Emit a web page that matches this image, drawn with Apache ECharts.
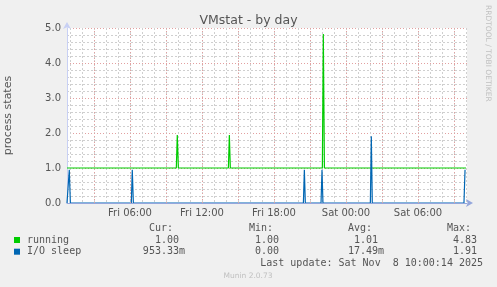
<!DOCTYPE html>
<html><head><meta charset="utf-8">
<script src="https://cdn.jsdelivr.net/npm/echarts@6/dist/echarts.min.js"></script>
<style>html,body{margin:0;padding:0;background:#f0f0f0;}#c{width:497px;height:287px;}</style>
</head><body><div id="c"></div>
<script>
// time in hours since Fri 00:00
const xMin = 0.75, xMax = 34.0833;
const minorTicks = [1,2,3,4,5,6,7,8,9,10,11,12,13,14,15,16,17,18,19,20,21,22,23,24,25,26,27,28,29,30,31,32,33,34];
const majorTicks = [3,6,9,12,15,18,21,24,27,30,33];
const labelTicks = [6,12,18,24,30];
const yTicks = [0,1,2,3,4,5];
const running = [[0.75,1],[9.86,1],[9.94,1.94],[10.03,1],[14.2,1],[14.28,1.94],[14.36,1],[22.03,1],[22.11,4.83],[22.2,1],[34.0,1]];
const ioSleep = [[0.75,0],[0.86,0],[0.94,0.95],[1.03,0],[6.11,0],[6.19,0.95],[6.28,0],[20.45,0],[20.53,0.95],[20.61,0],[21.92,0],[22.0,0.95],[22.08,0],[26.03,0],[26.11,1.91],[26.19,0],[33.83,0],[33.92,0.953]];
const legendRows = [
  {name:'running', color:'#00cc00', cur:'1.00 ', min:'1.00 ', avg:'1.01 ', max:'4.83 '},
  {name:'I/O sleep', color:'#0066b3', cur:'953.33m', min:'0.00 ', avg:'17.49m', max:'1.91 '}
];
const lastUpdate = 'Last update: Sat Nov  8 10:00:14 2025';

const mono = '"DejaVu Sans Mono", monospace';
const sans = '"DejaVu Sans", sans-serif';
const txt = '#555555';
function fmtX(v){ const d = v<24?'Fri ':'Sat '; const h = Math.round(v%24); return d+(h<10?'0':'')+h+':00'; }

const grid = {left:67, top:28, width:400, height:175, containLabel:false, outerBoundsMode:'none',
  show:true, backgroundColor:'#ffffff', borderWidth:0};
const graphics = [];
// legend header
const cols = [{k:'cur',h:'Cur:',r:185},{k:'min',h:'Min:',r:285},{k:'avg',h:'Avg:',r:384},{k:'max',h:'Max:',r:483}];
cols.forEach(c=>{ graphics.push({type:'text', x:c.r-12, y:228, style:{text:c.h, font:'10px '+mono, fill:txt, align:'right', verticalAlign:'middle'}}); });
legendRows.forEach((r,i)=>{
  const y = 240 + i*11.7;
  graphics.push({type:'rect', shape:{x:14,y:y-3,width:6,height:6}, style:{fill:r.color}});
  graphics.push({type:'text', x:27, y:y, style:{text:r.name, font:'10px '+mono, fill:txt, align:'left', verticalAlign:'middle'}});
  cols.forEach(c=>{
    let s = r[c.k];
    graphics.push({type:'text', x:c.r, y:y, style:{text:s, font:'10px '+mono, fill:txt, align:'right', verticalAlign:'middle'}});
  });
});
graphics.push({type:'text', x:483, y:263.5, style:{text:lastUpdate, font:'10px '+mono, fill:txt, align:'right', verticalAlign:'middle'}});
graphics.push({type:'text', x:248, y:276.5, style:{text:'Munin 2.0.73', font:'7.5px '+sans, fill:'#c0c0c0', align:'center', verticalAlign:'middle'}});
graphics.push({type:'text', x:488, y:5, rotation:-Math.PI/2, style:{text:'RRDTOOL / TOBI OETIKER', font:'7.5px '+sans, fill:'#c0c0c0', align:'left', verticalAlign:'middle'}});

const chart = echarts.init(document.getElementById('c'), null, {renderer:'canvas'});
chart.setOption({
  backgroundColor:'#f0f0f0',
  animation:false,
  title:{text:'VMstat - by day', left:'center', top:9, textStyle:{fontFamily:sans, fontSize:12.5, fontWeight:'normal', color:txt}},
  grid:[grid],
  xAxis:[
    {type:'value', min:xMin, max:xMax, gridIndex:0,
     axisLine:{show:false}, axisLabel:{show:false}, axisTick:{show:false, customValues:minorTicks},
     splitLine:{show:true, lineStyle:{color:'#cfcfcf', type:[2,2], width:1}}},
    {type:'value', min:xMin, max:xMax, gridIndex:0, position:'bottom',
     axisLine:{show:true, lineStyle:{color:'#94a6dc', width:1}, symbol:['none','arrow'], symbolSize:[6,7], symbolOffset:[0,6]},
     axisTick:{show:false, customValues:majorTicks},
     axisLabel:{show:true, customValues:labelTicks, formatter:fmtX, fontFamily:sans, fontSize:10, color:txt, margin:5},
     splitLine:{show:true, lineStyle:{color:'#e2a0a0', type:[1,2], width:1}}, z:5}
  ],
  yAxis:[{type:'value', min:0, max:5, interval:1,
    name:'process states', nameLocation:'middle', nameGap:53, nameRotate:90,
    nameTextStyle:{fontFamily:sans, fontSize:11, color:txt},
    axisLine:{show:true, lineStyle:{color:'#c8d0f4', width:1}, symbol:['none','arrow'], symbolSize:[6,7], symbolOffset:[0,6]},
    axisTick:{show:false},
    axisLabel:{formatter:v=>v.toFixed(1), fontFamily:sans, fontSize:10, color:txt, margin:6},
    splitLine:{show:true, lineStyle:{color:'#e2a0a0', type:[1,2], width:1}},
    minorTick:{show:false, splitNumber:5},
    minorSplitLine:{show:true, lineStyle:{color:'#cfcfcf', type:[2,2], width:1}}
  }],
  series:[
    {type:'line', name:'running', xAxisIndex:1, data:running, showSymbol:false, lineStyle:{color:'#00cc00', width:1.2}, z:3},
    {type:'line', name:'I/O sleep', xAxisIndex:1, data:ioSleep, showSymbol:false, lineStyle:{color:'#0066b3', width:1.2}, z:4}
  ],
  graphic:graphics
});
</script></body></html>
